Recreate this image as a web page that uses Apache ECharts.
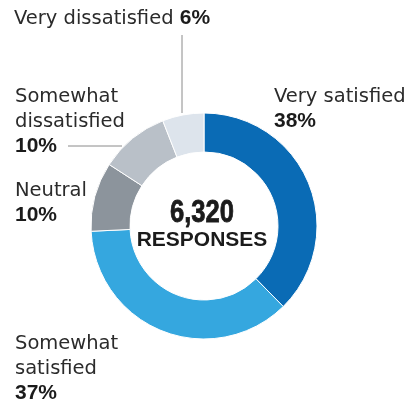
<!DOCTYPE html>
<html>
<head>
<meta charset="utf-8">
<script src="https://cdn.jsdelivr.net/npm/echarts@6/dist/echarts.min.js"></script>
<style>
html,body{margin:0;padding:0;background:#fff;}
#chart{width:407px;height:404px;}
</style>
</head>
<body>
<div id="chart"></div>
<script>
// ---- data ----
var categories = ['Very satisfied', 'Somewhat satisfied', 'Neutral', 'Somewhat dissatisfied', 'Very dissatisfied'];
var values = [38, 37, 10, 10, 6];
var totalResponses = '6,320';
var centerCaption = 'RESPONSES';

// ---- styling / layout (not data) ----
var colors = ['#0a6bb5', '#35a7df', '#8c949c', '#b9c0c8', '#dde4ec'];
var labelLayout = [
  { x: 274, y: 84, wrap: false, inline: false },   // Very satisfied
  { x: 15, y: 331, wrap: true, inline: false },    // Somewhat satisfied
  { x: 15, y: 178, wrap: false, inline: false },   // Neutral
  { x: 15, y: 84, wrap: true, inline: false },     // Somewhat dissatisfied
  { x: 14, y: 6, wrap: false, inline: true }       // Very dissatisfied
];
var regFont = "'DejaVu Sans', sans-serif";
var boldFont = "'Liberation Sans', Arial, sans-serif";

var chart = echarts.init(document.getElementById('chart'), null, { renderer: 'canvas' });

var graphics = [];
categories.forEach(function (name, i) {
  var L = labelLayout[i];
  var nm = L.wrap ? name.replace(' ', '\n') : name;
  var txt = L.inline ? (nm + ' {b|' + values[i] + '%}') : (nm + '\n{b|' + values[i] + '%}');
  graphics.push({
    type: 'text',
    left: L.x, top: L.y,
    style: {
      text: txt,
      fill: '#2b2b2b',
      font: "19.5px " + regFont,
      lineHeight: 25,
      rich: {
        b: { fontFamily: boldFont, fontWeight: 'bold', fontSize: 21, fill: '#1b1b1b', lineHeight: 25 }
      }
    }
  });
});
// leader lines
graphics.push({ type: 'line', shape: { x1: 182, y1: 35, x2: 182, y2: 113 }, style: { stroke: '#8a8a8a', lineWidth: 1 } });
graphics.push({ type: 'line', shape: { x1: 68, y1: 146, x2: 122, y2: 146 }, style: { stroke: '#8a8a8a', lineWidth: 1 } });
// center text
graphics.push({
  type: 'text', x: 202, y: 213, scaleX: 0.8,
  style: { text: totalResponses, font: "bold 32px " + boldFont, fill: '#1b1b1b', textAlign: 'center', textVerticalAlign: 'middle', stroke: '#1b1b1b', lineWidth: 0.8 }
});
graphics.push({
  type: 'text', x: 202, y: 240,
  style: { text: centerCaption, font: "bold 21px " + boldFont, fill: '#1b1b1b', textAlign: 'center', textVerticalAlign: 'middle' }
});

chart.setOption({
  backgroundColor: '#ffffff',
  animation: false,
  series: [{
    type: 'pie',
    center: [204, 226],
    radius: [74, 113],
    startAngle: 90,
    clockwise: true,
    label: { show: false },
    labelLine: { show: false },
    emphasis: { disabled: true },
    itemStyle: { borderColor: '#ffffff', borderWidth: 1 },
    data: categories.map(function (c, i) {
      return { name: c, value: values[i], itemStyle: { color: colors[i] } };
    })
  }],
  graphic: graphics
});
</script>
</body>
</html>
